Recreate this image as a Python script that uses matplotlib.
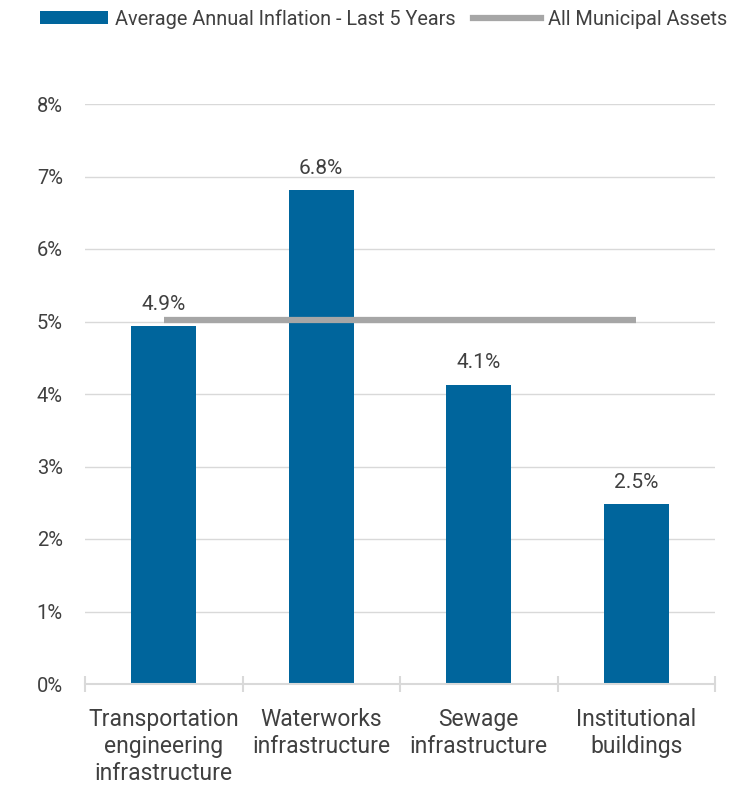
import matplotlib
matplotlib.use("Agg")
import matplotlib.pyplot as plt
import numpy as np
from matplotlib.ticker import FuncFormatter, FixedLocator
from matplotlib.patches import Patch
from matplotlib.lines import Line2D

categories = ["Transportation\nengineering\ninfrastructure", "Waterworks\ninfrastructure",
              "Sewage\ninfrastructure", "Institutional\nbuildings"]
inflation = [4.94, 6.81, 4.13, 2.48]
bar_labels = ["4.9%", "6.8%", "4.1%", "2.5%"]
all_assets = [5.02, 5.02, 5.02, 5.02]

BLUE = "#00659c"
GREY = "#a6a6a6"
TEXT = "#404040"
LIGHT = "#d9d9d9"

plt.rcParams['font.family'] = ['Roboto', 'DejaVu Sans']

fig = plt.figure(figsize=(7.52, 7.88), dpi=100)
ax = fig.add_axes([85/752, 1 - 684/788, 630/752, 580/788])

x = np.arange(len(categories))
ax.bar(x, inflation, width=0.41, color=BLUE, zorder=2)
ax.plot(x, all_assets, color=GREY, linewidth=4.5, solid_capstyle="butt", zorder=3)

for xi, v, lab in zip(x, inflation, bar_labels):
    ax.text(xi, v + 0.17, lab, ha="center", va="bottom", fontsize=15, color=TEXT)

ax.set_xlim(-0.5, len(categories) - 0.5)
ax.set_ylim(0, 8)
ax.yaxis.set_major_locator(FixedLocator(range(0, 9)))
ax.yaxis.set_major_formatter(FuncFormatter(lambda v, p: f"{int(v)}%"))
ax.grid(axis="y", color=LIGHT, linewidth=1, zorder=0)
ax.set_axisbelow(True)

ax.set_xticks(x)
ax.set_xticklabels(categories, fontsize=16.5, color=TEXT, linespacing=1.24)
ax.tick_params(axis="x", length=0, pad=17)
ax.set_xticks(np.arange(-0.5, len(categories)), minor=True)
ax.tick_params(axis="x", which="minor", direction="inout", length=12, color=LIGHT, width=1.5)
ax.tick_params(axis="y", length=0, labelsize=14.5, labelcolor=TEXT, pad=16)

for s in ["top", "right", "left"]:
    ax.spines[s].set_visible(False)
ax.spines["bottom"].set_color(LIGHT)
ax.spines["bottom"].set_linewidth(1.5)

handles = [Patch(facecolor=BLUE, label="Average Annual Inflation - Last 5 Years"),
           Line2D([0], [0], color=GREY, linewidth=4.5, label="All Municipal Assets")]
fig.legend(handles=handles, loc="upper left", bbox_to_anchor=(40/752, 1 - 9/788), ncol=2,
           frameon=False, fontsize=14.3, labelcolor=TEXT, handlelength=3.42,
           handleheight=0.65, columnspacing=0.9, handletextpad=0.35,
           borderpad=0, borderaxespad=0)

fig.savefig("out.png", dpi=100, facecolor="white")
